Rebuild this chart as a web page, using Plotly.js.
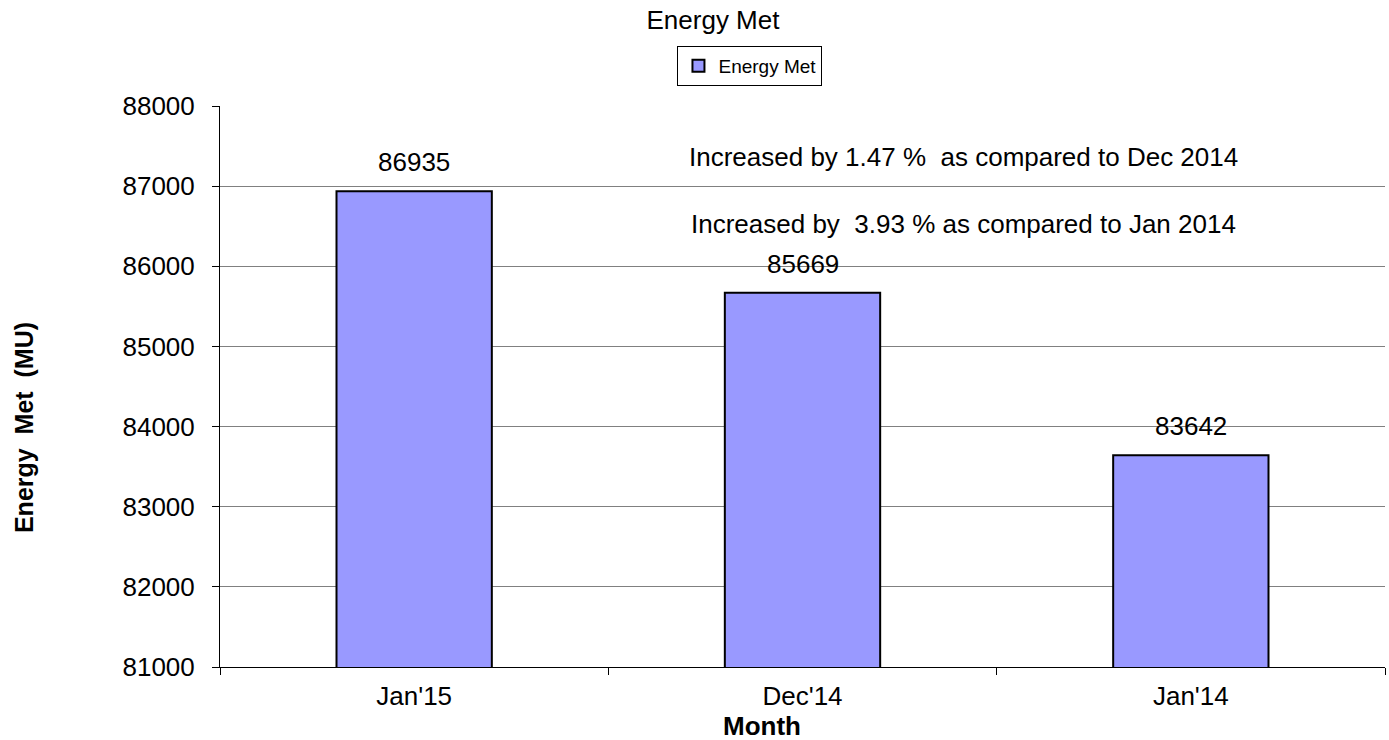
<!DOCTYPE html>
<html>
<head>
<meta charset="utf-8">
<script src="https://cdn.plot.ly/plotly-3.0.1.min.js"></script>
<style>html,body{margin:0;padding:0;background:#fff;}#chart{width:1389px;height:740px;}</style>
</head>
<body>
<div id="chart"></div>
<script>
const months = ["Jan'15", "Dec'14", "Jan'14"];
const energyMet = [86935, 85669, 83642];
const seriesName = "Energy Met";
const notes = ["Increased by 1.47 %\u00a0 as compared to Dec 2014", "Increased by\u00a0 3.93 % as compared to Jan 2014"];
const yTicks = [81000, 82000, 83000, 84000, 85000, 86000, 87000, 88000];
const xTitle = "Month";
const yTitle = "Energy\u00a0 Met\u00a0 (MU)";

const FONT = "Liberation Sans, Arial, sans-serif";

const trace = {
  type: 'bar',
  x: months,
  y: energyMet,
  name: seriesName,
  width: 0.4,
  marker: {color: '#9999FF', line: {color: '#000000', width: 2}},
  showlegend: true,
  hoverinfo: 'x+y'
};

const labelAnns = months.map((m, i) => ({
  x: m, y: energyMet[i], xref: 'x', yref: 'y',
  text: String(energyMet[i]), showarrow: false,
  yanchor: 'bottom', yshift: 12,
  font: {family: FONT, size: 26, color: '#000'}
}));

const noteAnns = notes.map((t, i) => ({
  x: [0.4009, 0.4026][i], y: [0.909, 0.7897][i], xref: 'paper', yref: 'paper',
  xanchor: 'left', yanchor: 'middle',
  text: t, showarrow: false,
  font: {family: FONT, size: 26, color: '#000'}
}));

const titleAnns = [
  {x: 0.4652, y: -0.105, xref: 'paper', yref: 'paper', xanchor: 'center', yanchor: 'middle',
   text: '<b>' + xTitle + '</b>', showarrow: false, font: {family: FONT, size: 26, color: '#000'}},
  {x: -0.1682, y: 0.426, xref: 'paper', yref: 'paper', xanchor: 'center', yanchor: 'middle',
   textangle: -90, text: '<b>' + yTitle + '</b>', showarrow: false, font: {family: FONT, size: 25, color: '#000'}}
];

const layout = {
  width: 1389, height: 740,
  margin: {l: 220, r: 4, t: 106, b: 73},
  paper_bgcolor: '#fff', plot_bgcolor: '#fff',
  font: {family: FONT, size: 26, color: '#000'},
  title: {text: 'Energy Met', x: 713 / 1389, xref: 'container', xanchor: 'center',
          y: 1 - 20 / 740, yref: 'container', yanchor: 'middle',
          font: {family: FONT, size: 26, color: '#000'}},
  showlegend: true,
  legend: {x: 0.4549, xanchor: 'center', y: 1.107, yanchor: 'top',
           orientation: 'h', bordercolor: '#000', borderwidth: 1,
           bgcolor: '#fff', font: {family: FONT, size: 19, color: '#000'},
           itemwidth: 30},
  xaxis: {
    type: 'category',
    categoryarray: months,
    tickson: 'boundaries',
    ticks: 'outside', ticklen: 7, tickcolor: '#000',
    showline: true, linecolor: '#000', linewidth: 1,
    showgrid: false,
    ticklabelstandoff: 6,
    tickfont: {family: FONT, size: 26, color: '#000'},
    fixedrange: true
  },
  yaxis: {
    range: [81000, 88000],
    tickvals: yTicks,
    ticktext: yTicks.map(String),
    ticks: 'outside', ticklen: 7, tickcolor: '#000',
    showline: true, linecolor: '#000', linewidth: 1,
    showgrid: true, gridcolor: '#808080', gridwidth: 1,
    zeroline: false,
    ticklabelstandoff: 12,
    tickfont: {family: FONT, size: 26, color: '#000'},
    fixedrange: true
  },
  annotations: labelAnns.concat(noteAnns, titleAnns)
};

Plotly.newPlot('chart', [trace], layout, {displayModeBar: false, staticPlot: true});
</script>
</body>
</html>
